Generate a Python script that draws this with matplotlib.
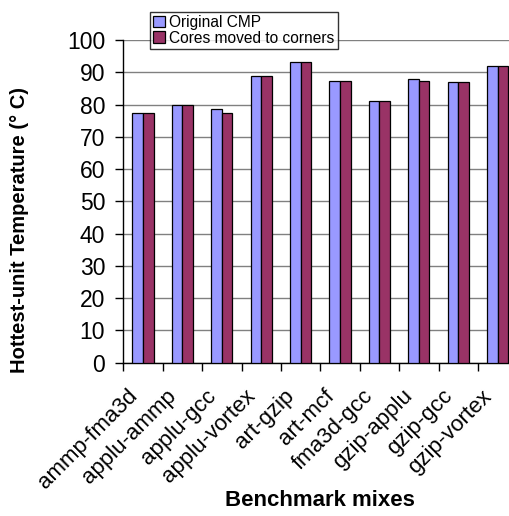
import numpy as np
import matplotlib.pyplot as plt
import matplotlib.transforms as mtransforms

plt.rcParams['font.family'] = ['Liberation Sans', 'DejaVu Sans']

benchmarks = ["ammp-fma3d", "applu-ammp", "applu-gcc", "applu-vortex", "art-gzip",
              "art-mcf", "fma3d-gcc", "gzip-applu", "gzip-gcc", "gzip-vortex"]
original_cmp = [77.5, 80.0, 78.5, 88.7, 93.2, 87.4, 81.1, 87.9, 86.9, 91.8]
cores_corners = [77.5, 80.0, 77.5, 88.7, 93.2, 87.4, 81.1, 87.4, 86.9, 91.8]

fig = plt.figure(figsize=(5.10, 5.16), dpi=100)
# axes runs off the right edge, like the cropped original
ax = fig.add_axes([123.3 / 510, 1 - 362.7 / 516, 394 / 510, (362.7 - 40) / 516])

x = np.arange(len(benchmarks))
w = 0.27
ax.bar(x - w / 2, original_cmp, w, color="#9999FF", edgecolor="black", linewidth=0.9,
       label="Original CMP", zorder=3)
ax.bar(x + w / 2, cores_corners, w, color="#993366", edgecolor="black", linewidth=0.9,
       label="Cores moved to corners", zorder=3)

ax.set_xlim(-0.5, 9.5)
ax.set_ylim(0, 100)
ax.set_yticks(range(0, 101, 10))
ax.yaxis.grid(True, color="#808080", linewidth=1.0, zorder=0)
ax.tick_params(axis="y", labelsize=16.5, length=6, width=1, direction="out", pad=7)

# ticks between groups, labels at group centres
ax.set_xticks(x)
ax.set_xticklabels(benchmarks, rotation=45, ha="right", va="center",
                   rotation_mode="anchor", fontsize=16)
ax.set_xticks(np.arange(-0.5, 9.5, 1), minor=True)
ax.tick_params(axis="x", which="major", length=0, pad=22)
ax.tick_params(axis="x", which="minor", length=6, width=1, direction="out")
shift = mtransforms.ScaledTranslation(-9 / 100, 0, fig.dpi_scale_trans)
for lbl in ax.get_xticklabels():
    lbl.set_transform(lbl.get_transform() + shift)

for s in ["top", "right"]:
    ax.spines[s].set_visible(False)
ax.spines["left"].set_linewidth(1)
ax.spines["bottom"].set_linewidth(1)

fig.text(20 / 510, 1 - 230 / 516, "Hottest-unit Temperature (° C)", rotation=90,
         ha="center", va="center", fontsize=14.5, fontweight="bold")
fig.text(320 / 510, 1 - 500 / 516, "Benchmark mixes", ha="center", va="center",
         fontsize=16, fontweight="bold")

leg = ax.legend(loc="upper left", bbox_to_anchor=(150 / 510, 1 - 11.7 / 516),
                bbox_transform=fig.transFigure, fontsize=11.2, frameon=True, fancybox=False,
                borderpad=0.2, handlelength=0.75, handleheight=0.75, handletextpad=0.3,
                labelspacing=0.05, borderaxespad=0)
leg.get_frame().set_edgecolor("black")
leg.get_frame().set_linewidth(1)
leg.set_zorder(5)

fig.savefig("out.png", dpi=100)
